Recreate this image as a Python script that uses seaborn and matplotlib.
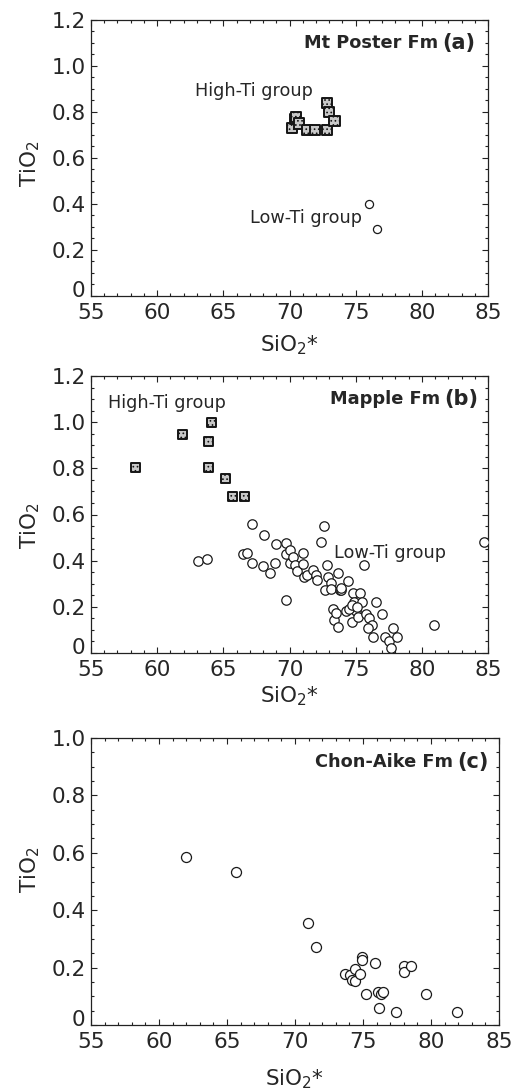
import numpy as np
import pandas as pd
import matplotlib
matplotlib.use("Agg")
import matplotlib.pyplot as plt
import matplotlib.transforms as mtransforms
import seaborn as sns

# ---------------- data ----------------
# Panel (a) Mt Poster Fm
a_high_x = [70.2, 70.4, 70.5, 70.7, 71.3, 71.9, 72.8, 72.8, 73.0, 73.4]
a_high_y = [0.73, 0.77, 0.78, 0.75, 0.72, 0.72, 0.72, 0.84, 0.80, 0.76]
a_low_x = [76.0, 76.6]
a_low_y = [0.40, 0.29]

# Panel (b) Mapple Fm
b_high_x = [58.4, 61.9, 64.1, 63.9, 63.9, 65.2, 65.7, 66.6]
b_high_y = [0.805, 0.947, 0.998, 0.918, 0.805, 0.757, 0.68, 0.68]
b_low_x = [63.1, 63.8, 67.2, 68.1, 66.5, 66.8, 67.15, 68.0, 68.5, 68.9,
           69.0, 69.7, 69.7, 69.7, 70.0, 70.0, 70.3, 70.4, 70.6, 71.05,
           71.0, 71.1, 71.3, 71.8, 72.0, 72.05, 72.4, 72.6, 72.8, 72.9,
           72.7, 73.1, 73.1, 73.3, 73.4, 73.55, 73.7, 73.7, 73.8, 73.9,
           73.9, 74.3, 74.4, 74.7, 74.8, 74.9, 75.05, 75.2, 75.3, 75.6,
           75.5, 75.8, 76.0, 76.2, 75.9, 76.3, 76.5, 77.0, 77.2, 77.5,
           77.8, 77.7, 78.1, 80.9, 84.7, 74.5, 74.7, 75.1]
b_low_y = [0.40, 0.407, 0.559, 0.511, 0.43, 0.433, 0.389, 0.377, 0.348, 0.389,
           0.471, 0.478, 0.23, 0.43, 0.446, 0.391, 0.417, 0.381, 0.357, 0.433,
           0.386, 0.331, 0.34, 0.36, 0.338, 0.316, 0.482, 0.55, 0.381, 0.331,
           0.273, 0.305, 0.278, 0.189, 0.143, 0.172, 0.114, 0.348, 0.273, 0.273,
           0.28, 0.18, 0.31, 0.136, 0.26, 0.22, 0.18, 0.155, 0.26, 0.38,
           0.22, 0.17, 0.15, 0.12, 0.11, 0.07, 0.22, 0.17, 0.07, 0.05,
           0.11, 0.02, 0.07, 0.12, 0.48, 0.19, 0.21, 0.20]

# Panel (c) Chon-Aike Fm
c_low_x = [62.0, 65.66, 70.97, 71.58, 73.7, 74.07, 74.2, 74.4, 74.4, 74.8,
           74.9, 74.9, 75.2, 75.85, 76.1, 76.3, 76.5, 76.2, 77.4, 78.0,
           78.0, 78.5, 79.6, 81.9]
c_low_y = [0.585, 0.534, 0.354, 0.273, 0.177, 0.175, 0.157, 0.194, 0.153, 0.177,
           0.236, 0.226, 0.107, 0.215, 0.116, 0.107, 0.116, 0.058, 0.046, 0.205,
           0.186, 0.205, 0.107, 0.046]

panel_titles = ["Mt Poster Fm", "Mapple Fm", "Chon-Aike Fm"]
panel_tags = ["(a)", "(b)", "(c)"]
x_ticks = [55, 60, 65, 70, 75, 80, 85]
y_ticks_ab = [0, 0.2, 0.4, 0.6, 0.8, 1.0, 1.2]
y_labels_ab = ["0", "0.2", "0.4", "0.6", "0.8", "1.0", "1.2"]
y_ticks_c = [0, 0.2, 0.4, 0.6, 0.8, 1.0]
y_labels_c = ["0", "0.2", "0.4", "0.6", "0.8", "1.0"]

# ---------------- style ----------------
sns.set_style("ticks")
plt.rcParams["font.family"] = ["DejaVu Sans"]
plt.rcParams["mathtext.fontset"] = "dejavusans"
plt.rcParams["hatch.linewidth"] = 0.7
plt.rcParams["axes.linewidth"] = 0.9

W, H = 517, 1092
fig = plt.figure(figsize=(W / 100, H / 100), dpi=100)

def make_ax(left, right, top, bottom):
    return fig.add_axes([left / W, 1 - bottom / H, (right - left) / W, (bottom - top) / H])

ax_a = make_ax(91, 488, 20, 296)
ax_b = make_ax(91, 488, 376, 653)
ax_c = make_ax(91, 499, 738, 1025)

sq_kw = dict(marker="s", color="#c8c8c8", edgecolor="#151515", linewidth=1.4,
             hatch="....", zorder=3, legend=False)
ci_kw = dict(marker="o", color="white", edgecolor="#1a1a1a", linewidth=0.9,
             zorder=3, legend=False)

# panel a
sns.scatterplot(x=a_high_x, y=a_high_y, ax=ax_a, s=52, **sq_kw)
sns.scatterplot(x=a_low_x, y=a_low_y, ax=ax_a, s=34, **ci_kw)
# panel b
sns.scatterplot(x=b_high_x, y=b_high_y, ax=ax_b, s=42, **sq_kw)
sns.scatterplot(x=b_low_x, y=b_low_y, ax=ax_b, s=46, **ci_kw)
# panel c
sns.scatterplot(x=c_low_x, y=c_low_y, ax=ax_c, s=52, **ci_kw)

settings = [
    (ax_a, 0, y_ticks_ab, y_labels_ab, 1.2, -0.134, 0.48),
    (ax_b, 1, y_ticks_ab, y_labels_ab, 1.2, -0.115, 0.46),
    (ax_c, 2, y_ticks_c, y_labels_c, 1.0, -0.146, 0.54),
]
for ax, i, yt, yl, ymax, xlab_y, ylab_y in settings:
    ax.set_xlim(55, 85)
    ax.set_ylim(0, ymax)
    ax.set_xticks(x_ticks)
    ax.set_xticklabels([str(v) for v in x_ticks])
    ax.set_yticks(yt)
    ax.set_yticklabels(yl)
    ax.xaxis.set_minor_locator(matplotlib.ticker.MultipleLocator(1))
    ax.yaxis.set_minor_locator(matplotlib.ticker.MultipleLocator(0.05))
    ax.tick_params(which="both", direction="in", top=True, right=True,
                   color="#222222", width=0.8)
    ax.tick_params(which="major", length=4, labelsize=15.5)
    ax.tick_params(axis="y", which="major", pad=4)
    ax.tick_params(axis="x", which="major", pad=5)
    ax.tick_params(which="minor", length=2.3)
    for sp in ax.spines.values():
        sp.set_visible(True)
        sp.set_color("#222222")
    # lift the "0" y label a little so it does not collide with "55"
    lbl0 = ax.get_yticklabels()[0]
    lbl0.set_transform(lbl0.get_transform() +
                       mtransforms.ScaledTranslation(0, 5 / 72, fig.dpi_scale_trans))
    ax.set_xlabel("SiO$_2$*", fontsize=15.5)
    ax.xaxis.set_label_coords(0.5, xlab_y)
    ax.set_ylabel("TiO$_2$", fontsize=15.5)
    wpx = ax.get_position().width * W
    ax.yaxis.set_label_coords(-49 / wpx, ylab_y)

# panel titles: bold name + bold tag at upper right
fig.canvas.draw()
renderer = fig.canvas.get_renderer()
for ax, i, xr in [(ax_a, 0, 0.967), (ax_b, 1, 0.975), (ax_c, 2, 0.975)]:
    tag = ax.text(xr, 0.918, panel_tags[i], transform=ax.transAxes, ha="right",
                  va="center", fontsize=15, fontweight="bold")
    tw = tag.get_window_extent(renderer=renderer).width * 72 / fig.dpi
    ax.annotate(panel_titles[i], xy=(xr, 0.918), xycoords="axes fraction",
                xytext=(-(tw + 3), 0), textcoords="offset points",
                ha="right", va="center", fontsize=12.8, fontweight="bold")

# group labels
ax_a.text(62.85, 0.893, "High-Ti group", fontsize=12.7, ha="left", va="center")
ax_a.text(67.0, 0.339, "Low-Ti group", fontsize=12.7, ha="left", va="center")
ax_b.text(56.3, 1.085, "High-Ti group", fontsize=12.7, ha="left", va="center")
ax_b.text(73.4, 0.435, "Low-Ti group", fontsize=12.7, ha="left", va="center")

fig.savefig("out.png", dpi=100)
